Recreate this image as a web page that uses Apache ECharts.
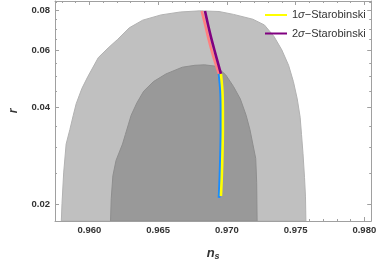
<!DOCTYPE html>
<html>
<head>
<meta charset="utf-8">
<script src="https://cdn.jsdelivr.net/npm/echarts@6/dist/echarts.min.js"></script>
<style>
html,body{margin:0;padding:0;background:#fff;}
#c{width:379px;height:266px;}
</style>
</head>
<body>
<div id="c"></div>
<script>
// ---- data ----
const nsTicks = [0.960, 0.965, 0.970, 0.975, 0.980];
const nsMinorTicks = [0.958, 0.959, 0.961, 0.962, 0.963, 0.964, 0.966, 0.967, 0.968, 0.969,
  0.971, 0.972, 0.973, 0.974, 0.976, 0.977, 0.978, 0.979];
const rTicks = [0.02, 0.04, 0.06, 0.08];
const rMinorTicks = [0.025, 0.03, 0.035, 0.045, 0.05, 0.055, 0.065, 0.07, 0.075, 0.085];

// 2-sigma (light) contour [n_s, r]
const region2sigma = [
  [0.95796, 0.0177], [0.95801, 0.02005], [0.95813, 0.02499], [0.95831, 0.03072],
  [0.95858, 0.03407], [0.95883, 0.03778], [0.95904, 0.04103], [0.95946, 0.04581],
  [0.95988, 0.04976], [0.96065, 0.05711], [0.96136, 0.06118], [0.96206, 0.06509],
  [0.96290, 0.07070], [0.96388, 0.07470], [0.96522, 0.07758], [0.96662, 0.07921],
  [0.96803, 0.07986], [0.96943, 0.07948], [0.97048, 0.07786], [0.97189, 0.07520],
  [0.97273, 0.07218], [0.97343, 0.06645], [0.97400, 0.06034], [0.97449, 0.05405],
  [0.97484, 0.04808], [0.97512, 0.04247], [0.97533, 0.03726], [0.97543, 0.03292],
  [0.97554, 0.02868], [0.97565, 0.02414], [0.97572, 0.02104], [0.97575, 0.0177]
];
// 1-sigma (dark) contour [n_s, r]
const region1sigma = [
  [0.96154, 0.0177], [0.96159, 0.02075], [0.96171, 0.02448], [0.96194, 0.02733],
  [0.96241, 0.03072], [0.96262, 0.03292], [0.96283, 0.03526], [0.96304, 0.03778],
  [0.96346, 0.04132], [0.96395, 0.04488], [0.96466, 0.04808], [0.96557, 0.05080],
  [0.96676, 0.05331], [0.96768, 0.05405], [0.96838, 0.05423], [0.96922, 0.05368],
  [0.96992, 0.05045], [0.97048, 0.04645], [0.97098, 0.04247], [0.97140, 0.03778],
  [0.97168, 0.03407], [0.97189, 0.03072], [0.97210, 0.02771], [0.97217, 0.02333],
  [0.97220, 0.0177]
];
// Starobinski curves
const staro1sigma = [
  [0.96957, 0.0508], [0.96968, 0.04488], [0.96971, 0.0391], [0.96971, 0.03407],
  [0.96968, 0.02868], [0.96963, 0.02414], [0.96957, 0.02118]
];
const staro2sigma = [
  [0.96841, 0.07975], [0.96862, 0.07268], [0.96887, 0.06554], [0.96915, 0.05911],
  [0.96940, 0.05405], [0.96957, 0.0508]
];
const blueCurve = [
  [0.96943, 0.0508], [0.96954, 0.04488], [0.96957, 0.0391], [0.96957, 0.03407],
  [0.96954, 0.02868], [0.96949, 0.02414], [0.96943, 0.02089]
];
const pinkCurve = [
  [0.96817, 0.07975], [0.96841, 0.07268], [0.96866, 0.06554], [0.96894, 0.05911],
  [0.96922, 0.05405], [0.96943, 0.0508]
];

const X_MIN = 0.9575, X_MAX = 0.9805;
const Y_MIN = 0.0177, Y_MAX = 0.0857;

const FRAME = '#a0a0a0';
const LABEL = '#333';
const FONT = 'Liberation Sans';

function xAxisCfg(pos, ticks, len, withLabels, withLine) {
  return {
    type: 'value', position: pos, min: X_MIN, max: X_MAX,
    axisLine: {show: withLine, onZero: false, lineStyle: {color: FRAME, width: 1}},
    axisTick: {show: true, inside: true, length: len, customValues: ticks, lineStyle: {color: FRAME}},
    axisLabel: {show: withLabels, customValues: ticks, margin: 4, color: LABEL,
      fontFamily: FONT, fontWeight: 'bold', fontSize: 9.5,
      formatter: v => Number(v).toFixed(3)},
    splitLine: {show: false}
  };
}
function yAxisCfg(pos, ticks, len, withLabels, withLine) {
  return {
    type: 'log', logBase: 10, position: pos, min: Y_MIN, max: Y_MAX,
    axisLine: {show: withLine, onZero: false, lineStyle: {color: FRAME, width: 1}},
    axisTick: {show: true, inside: true, length: len, customValues: ticks, lineStyle: {color: FRAME}},
    axisLabel: {show: withLabels, customValues: ticks, margin: 5, color: LABEL,
      fontFamily: FONT, fontWeight: 'bold', fontSize: 9.5,
      formatter: v => Number(v).toFixed(2)},
    splitLine: {show: false}
  };
}

const xAxes = [
  Object.assign(xAxisCfg('bottom', nsTicks, 4, true, true), {
    name: '{n|n}{s|s}', nameLocation: 'middle', nameGap: 25,
    nameTextStyle: {rich: {
      n: {fontFamily: FONT, fontStyle: 'italic', fontWeight: 'bold', fontSize: 13, color: LABEL},
      s: {fontFamily: FONT, fontStyle: 'italic', fontWeight: 'bold', fontSize: 9, color: LABEL, padding: [6, 0, 0, 0]}
    }}
  }),
  xAxisCfg('bottom', nsMinorTicks, 2, false, false),
  xAxisCfg('top', nsTicks, 4, false, true),
  xAxisCfg('top', nsMinorTicks, 2, false, false)
];
const yAxes = [
  Object.assign(yAxisCfg('left', rTicks, 4, true, true), {
    name: 'r', nameLocation: 'middle', nameGap: 35, nameRotate: 90,
    nameTextStyle: {fontFamily: FONT, fontStyle: 'italic', fontWeight: 'bold', fontSize: 12, color: LABEL}
  }),
  yAxisCfg('left', rMinorTicks, 2, false, false),
  yAxisCfg('right', rTicks, 4, false, true),
  yAxisCfg('right', rMinorTicks, 2, false, false)
];

function regionSeries(pts, fill, stroke) {
  return {
    type: 'custom', xAxisIndex: 0, yAxisIndex: 0, silent: true, clip: true,
    data: pts,
    encode: {x: 0, y: 1},
    renderItem: (params, api) => {
      if (params.dataIndex !== 0) return null;
      const points = pts.map(p => api.coord(p));
      return {type: 'polygon', shape: {points: points},
        style: {fill: fill, stroke: stroke, lineWidth: 1}};
    }
  };
}
function curveSeries(name, pts, color, width) {
  return {
    name: name, type: 'line', xAxisIndex: 0, yAxisIndex: 0,
    data: pts, showSymbol: false, symbol: 'none', smooth: 0.3,
    lineStyle: {color: color, width: width}, itemStyle: {color: color},
    z: 5
  };
}

const chart = echarts.init(document.getElementById('c'), null, {renderer: 'canvas'});
chart.setOption({
  animation: false,
  backgroundColor: '#fff',
  grid: {left: 45, right: 7, top: 1, bottom: 36, containLabel: false},
  xAxis: xAxes,
  yAxis: yAxes,
  legend: {
    data: ['1σ-Starobinski', '2σ-Starobinski'],
    orient: 'vertical', left: 265, top: 8, itemGap: 4.5, padding: 0,
    icon: 'rect', itemWidth: 22, itemHeight: 2,
    formatter: name => name.replace('σ', '{i|σ}').replace('-', '−'),
    textStyle: {fontFamily: FONT, fontSize: 11, color: '#333', lineHeight: 14,
      rich: {i: {fontFamily: FONT, fontStyle: 'italic', fontSize: 11, color: '#333', lineHeight: 14}}},
    selectedMode: false
  },
  series: [
    regionSeries(region2sigma, '#c0c0c0', '#b2b2b2'),
    regionSeries(region1sigma, '#999999', '#8e8e8e'),
    curveSeries('pink', pinkCurve, '#ff8080', 2.6),
    curveSeries('blue', blueCurve, '#1a8cff', 2.6),
    curveSeries('2σ-Starobinski', staro2sigma, '#800080', 2.6),
    curveSeries('1σ-Starobinski', staro1sigma, '#ffff00', 2.6)
  ]
});
</script>
</body>
</html>
